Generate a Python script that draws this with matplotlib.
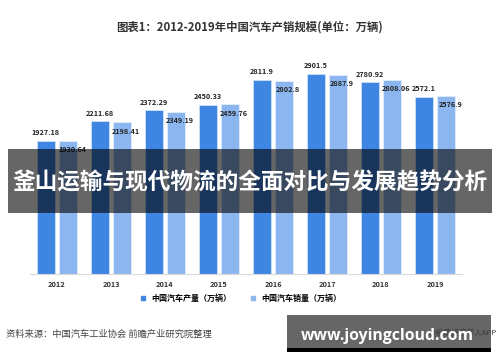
import matplotlib
matplotlib.use("Agg")
import matplotlib.pyplot as plt
from matplotlib.patches import Rectangle
from matplotlib.lines import Line2D
import numpy as np

plt.rcParams['font.family'] = ['Noto Sans CJK SC', 'DejaVu Sans']

years = ['2012', '2013', '2014', '2015', '2016', '2017', '2018', '2019']
production = [1927.18, 2211.68, 2372.29, 2450.33, 2811.9, 2901.5, 2780.92, 2572.1]
sales = [1930.64, 2198.41, 2349.19, 2459.76, 2802.8, 2887.9, 2808.06, 2576.9]
prod_labels = ['1927.18', '2211.68', '2372.29', '2450.33', '2811.9', '2901.5', '2780.92', '2572.1']
sales_labels = ['1930.64', '2198.41', '2349.19', '2459.76', '2802.8', '2887.9', '2808.06', '2576.9']
series_names = ['中国汽车产量（万辆）', '中国汽车销量（万辆）']

c_prod = '#3f86e3'
c_sales = '#8cb6f0'

W, H = 500, 362
fig = plt.figure(figsize=(5, 3.62), dpi=100)
ax = fig.add_axes([30 / W, (362 - 274) / H, 432 / W, 207 / H])

x = np.arange(len(years))
bw = 0.34
off = 0.205
ax.bar(x - off, production, bw, color=c_prod, edgecolor='#cfe0f8', linewidth=0.6)
ax.bar(x + off, sales, bw, color=c_sales, edgecolor='#e3eefc', linewidth=0.6)

for i in range(len(years)):
    ax.annotate(prod_labels[i], (x[i] - off, production[i]), xytext=(0, 5.8),
                textcoords='offset points', ha='center', va='center',
                fontsize=5.2, fontweight='bold', color='#222222')
    ax.annotate(sales_labels[i], (x[i] + off, sales[i]), xytext=(3, -6.3),
                textcoords='offset points', ha='center', va='center',
                fontsize=5.2, fontweight='bold', color='#222222')

ax.set_xlim(-0.5, 7.5)
ax.set_ylim(0, 3000)
ax.set_yticks([])
ax.set_xticks(x)
ax.set_xticklabels(years, fontsize=5.3, fontweight='bold', color='#333333')
ax.tick_params(axis='x', length=0, pad=5)
for s in ['top', 'right', 'left']:
    ax.spines[s].set_visible(False)
ax.spines['bottom'].set_color('#d9d9d9')
ax.spines['bottom'].set_linewidth(0.8)

# title
fig.text(250 / W, 1 - 27 / H, '图表1：2012-2019年中国汽车产销规模(单位：万辆)',
         ha='center', va='center', fontsize=8.2, fontweight='bold', color='#333333')

# legend
handles = [Line2D([], [], marker='s', linestyle='none', markersize=3, color=c_prod),
           Line2D([], [], marker='s', linestyle='none', markersize=3, color=c_sales)]
fig.legend(handles, series_names, loc='center', bbox_to_anchor=(238 / W, 1 - 298 / H),
           ncol=2, frameon=False, handletextpad=0.1, columnspacing=1.6,
           prop={'weight': 'bold', 'size': 5.8})

# source
fig.text(6 / W, 1 - 334 / H, '资料来源：中国汽车工业协会 前瞻产业研究院整理',
         ha='left', va='center', fontsize=6.7, color='#444444')

# banner overlay
fig.patches.append(Rectangle((8 / W, 1 - 213 / H), 484 / W, 64 / H,
                             transform=fig.transFigure, facecolor='black',
                             alpha=0.6, edgecolor='none', zorder=5))
fig.text(250 / W, 1 - 183 / H, '釜山运输与现代物流的全面对比与发展趋势分析',
         ha='center', va='center', fontsize=16.3, fontweight='bold', color='white', zorder=6)

# bottom-right watermark box
fig.patches.append(Rectangle((287 / W, 1 - 348 / H), 204 / W, 33 / H,
                             transform=fig.transFigure, facecolor='#666666',
                             edgecolor='none', zorder=5))
fig.patches.append(Rectangle((287 / W, 1 - 352 / H), 204 / W, 4 / H,
                             transform=fig.transFigure, facecolor='black',
                             edgecolor='none', zorder=5))
fig.text(497 / W, 1 - 333 / H, '@前瞻经济学人APP', ha='right', va='center',
         fontsize=5.5, color='#3a3a3a', zorder=5.5)
fig.text(387 / W, 1 - 336 / H, 'www.joyingcloud.com', ha='center', va='center',
         fontsize=11.3, fontweight='bold', color='white', zorder=6,
         family=['Open Sans', 'DejaVu Sans'])

fig.savefig('out.png', dpi=100)
